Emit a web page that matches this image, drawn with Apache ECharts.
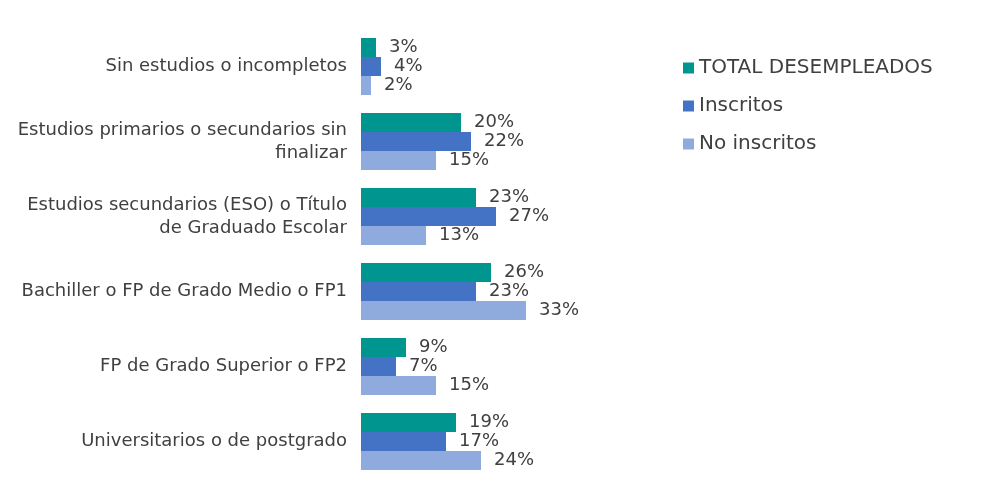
<!DOCTYPE html>
<html>
<head>
<meta charset="utf-8">
<script src="https://cdn.jsdelivr.net/npm/echarts@6/dist/echarts.min.js"></script>
<style>
html, body { margin: 0; padding: 0; background: #fff; }
#main { width: 985px; height: 495px; }
</style>
</head>
<body>
<div id="main"></div>
<script>
var categorias = [
	'Sin estudios o incompletos',
	'Estudios primarios o secundarios sin\nfinalizar',
	'Estudios secundarios (ESO) o Título\nde Graduado Escolar',
	'Bachiller o FP de Grado Medio o FP1',
	'FP de Grado Superior o FP2',
	'Universitarios o de postgrado'
];
var totalDesempleados = [3, 20, 23, 26, 9, 19];
var inscritos = [4, 22, 27, 23, 7, 17];
var noInscritos = [2, 15, 13, 33, 15, 24];

var fuente = '"DejaVu Sans", sans-serif';
var chart = echarts.init(document.getElementById('main'));

function serie(nombre, datos, color) {
	return {
		name: nombre,
		type: 'bar',
		data: datos,
		barWidth: 19,
		barGap: '0%',
		itemStyle: { color: color },
		label: {
			show: true,
			position: 'right',
			distance: 13,
			formatter: '{c}%',
			color: '#404040',
			fontSize: 18,
			fontFamily: fuente
		}
	};
}

var option = {
	animation: false,
	textStyle: { fontFamily: fuente },
	legend: {
		orient: 'vertical',
		left: 678,
		top: 53,
		itemWidth: 11,
		itemHeight: 11,
		itemGap: 18,
		icon: 'rect',
		textStyle: { fontSize: 20, color: '#404040', fontFamily: fuente },
		data: ['TOTAL DESEMPLEADOS', 'Inscritos', 'No inscritos']
	},
	grid: { left: 361, top: 29, width: 300, height: 450, containLabel: false },
	xAxis: {
		type: 'value',
		min: 0,
		max: 60,
		show: false
	},
	yAxis: {
		type: 'category',
		inverse: true,
		data: categorias,
		axisLine: { show: false },
		axisTick: { show: false },
		axisLabel: {
			margin: 14,
			color: '#404040',
			fontSize: 18,
			lineHeight: 23,
			fontFamily: fuente,
			align: 'right'
		}
	},
	series: [
		serie('TOTAL DESEMPLEADOS', totalDesempleados, '#00968F'),
		serie('Inscritos', inscritos, '#4472C4'),
		serie('No inscritos', noInscritos, '#8FAADC')
	]
};
chart.setOption(option);
</script>
</body>
</html>
